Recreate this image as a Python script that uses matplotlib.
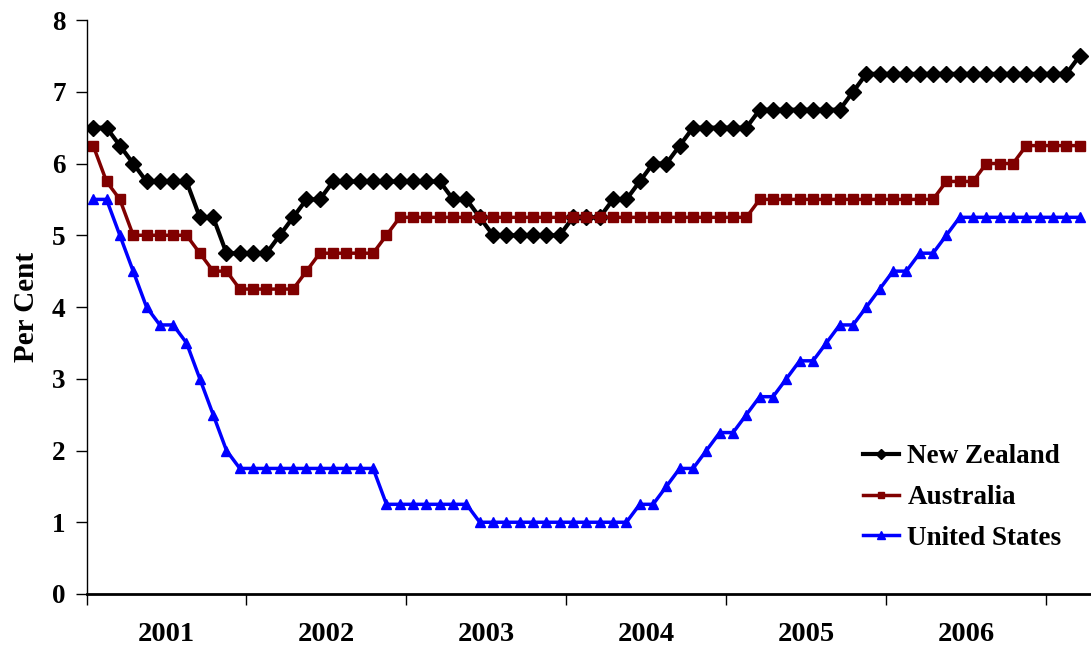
import numpy as np
import matplotlib
matplotlib.use('Agg')
from matplotlib import pyplot as plt

# 月度政策利率，2001年1月 - 2007年3月
nz = [6.5, 6.5, 6.25, 6.0, 5.75, 5.75, 5.75, 5.75, 5.25, 5.25, 4.75, 4.75,
      4.75, 4.75, 5.0, 5.25, 5.5, 5.5, 5.75, 5.75, 5.75, 5.75, 5.75, 5.75,
      5.75, 5.75, 5.75, 5.5, 5.5, 5.25, 5.0, 5.0, 5.0, 5.0, 5.0, 5.0,
      5.25, 5.25, 5.25, 5.5, 5.5, 5.75, 6.0, 6.0, 6.25, 6.5, 6.5, 6.5,
      6.5, 6.5, 6.75, 6.75, 6.75, 6.75, 6.75, 6.75, 6.75, 7.0, 7.25, 7.25,
      7.25, 7.25, 7.25, 7.25, 7.25, 7.25, 7.25, 7.25, 7.25, 7.25, 7.25, 7.25,
      7.25, 7.25, 7.5]
au = [6.25, 5.75, 5.5, 5.0, 5.0, 5.0, 5.0, 5.0, 4.75, 4.5, 4.5, 4.25,
      4.25, 4.25, 4.25, 4.25, 4.5, 4.75, 4.75, 4.75, 4.75, 4.75, 5.0, 5.25,
      5.25, 5.25, 5.25, 5.25, 5.25, 5.25, 5.25, 5.25, 5.25, 5.25, 5.25, 5.25,
      5.25, 5.25, 5.25, 5.25, 5.25, 5.25, 5.25, 5.25, 5.25, 5.25, 5.25, 5.25,
      5.25, 5.25, 5.5, 5.5, 5.5, 5.5, 5.5, 5.5, 5.5, 5.5, 5.5, 5.5,
      5.5, 5.5, 5.5, 5.5, 5.75, 5.75, 5.75, 6.0, 6.0, 6.0, 6.25, 6.25,
      6.25, 6.25, 6.25]
us = [5.5, 5.5, 5.0, 4.5, 4.0, 3.75, 3.75, 3.5, 3.0, 2.5, 2.0, 1.75,
      1.75, 1.75, 1.75, 1.75, 1.75, 1.75, 1.75, 1.75, 1.75, 1.75, 1.25, 1.25,
      1.25, 1.25, 1.25, 1.25, 1.25, 1.0, 1.0, 1.0, 1.0, 1.0, 1.0, 1.0,
      1.0, 1.0, 1.0, 1.0, 1.0, 1.25, 1.25, 1.5, 1.75, 1.75, 2.0, 2.25,
      2.25, 2.5, 2.75, 2.75, 3.0, 3.25, 3.25, 3.5, 3.75, 3.75, 4.0, 4.25,
      4.5, 4.5, 4.75, 4.75, 5.0, 5.25, 5.25, 5.25, 5.25, 5.25, 5.25, 5.25,
      5.25, 5.25, 5.25]
years = ['2001', '2002', '2003', '2004', '2005', '2006']

plt.rcParams['font.family'] = ['Liberation Serif', 'DejaVu Serif']
plt.rcParams['font.weight'] = 'bold'

fig = plt.figure(figsize=(10.91, 6.46), dpi=100)
ax = fig.add_axes([0.0793, 0.0805, 0.9207, 0.8885])

x = np.arange(len(nz)) + 0.5  # 每个月的点落在刻度之间
ax.plot(x, nz, color='black', lw=3, marker='D', ms=8, label='New Zealand')
ax.plot(x, au, color='#800000', lw=2.5, marker='s', ms=7, label='Australia')
ax.plot(x, us, color='#0000FF', lw=2.5, marker='^', ms=7.5, label='United States')

ax.set_xlim(0, 75.35)
ax.set_ylim(0, 8)
ax.set_yticks(range(0, 9))
ax.set_xticks(range(0, 73, 12))
ax.set_xticks(np.arange(6, 72, 12), minor=True)
ax.set_xticklabels([])
ax.set_xticklabels(years, minor=True)
ax.tick_params(axis='x', which='major', direction='out', length=8, width=1)
ax.tick_params(axis='x', which='minor', length=0, pad=20, labelsize=20.5)
ax.tick_params(axis='y', direction='out', length=8, width=1, pad=7, labelsize=19.5)

ax.spines['top'].set_visible(False)
ax.spines['right'].set_visible(False)
ax.spines['bottom'].set_linewidth(2)
ax.spines['left'].set_linewidth(1)

ax.set_ylabel('Per Cent', fontsize=21, fontweight='bold', labelpad=9)

ax.legend(loc='center left', bbox_to_anchor=(0.749, 0.168), frameon=False,
          fontsize=19.5, handlelength=1.33, handletextpad=0.3, labelspacing=0.58,
          markerscale=0.7)

plt.savefig('out.png', dpi=100)
